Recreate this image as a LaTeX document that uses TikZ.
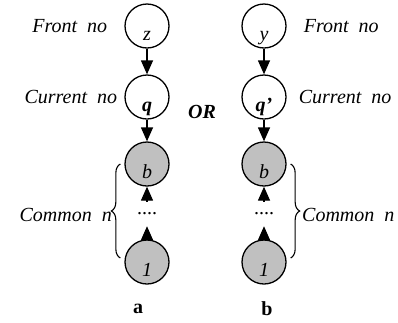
\documentclass[tikz,border=0pt]{standalone}
\usepackage{fontspec}
\setmainfont{Liberation Serif}
\usetikzlibrary{positioning, arrows.meta, calc, decorations.pathreplacing}
\tikzset{
    >={Triangle[length=14pt,width=12pt]}
}

\begin{document}
\begin{tikzpicture}[x=1pt,y=-1pt]
  % fill for the shared part of both chains
  \definecolor{sharedGray}{RGB}{192,192,192}

  % common styles
  \tikzset{
    stage/.style={
      circle,
      draw=black,
      line width=1.3pt,
      minimum size=44pt,
      inner sep=0pt,
      text height=28pt,   % pushes the letter below the centre
      text depth=0pt,
      font=\fontsize{20}{24}\selectfont\itshape
    },
    shared/.style={stage, fill=sharedGray},
    side/.style={inner sep=0pt, font=\fontsize{20}{24}\selectfont\itshape},
    link/.style={->, line width=1.3pt},
    group/.style={decorate, decoration={brace, amplitude=9pt}, line width=1.1pt}
  }

  \useasboundingbox (0,0) rectangle (398,322);

  % chain a
  \node[stage]  (za) at (147,26)  {z};
  \node[stage]  (qa) at (147,97)  {\bfseries q};
  \node[shared] (ba) at (147,164) {b};
  \node[shared] (oa) at (147,262) {1};
  \node[inner sep=0pt, minimum height=24pt, font=\fontsize{20}{24}\selectfont] (da) at (147,214) {....};

  % chain b
  \node[stage]  (zb) at (264,26)  {y};
  \node[stage]  (qb) at (264,97)  {\bfseries q'};
  \node[shared] (bb) at (264,164) {b};
  \node[shared] (ob) at (264,262) {1};
  \node[inner sep=0pt, minimum height=24pt, font=\fontsize{20}{24}\selectfont] (db) at (264,214) {....};

  \draw[link] (za) -- (qa);
  \draw[link] (qa) -- (ba);
  \draw[link] (oa) -- (da);
  \draw[link] (da) -- (ba);

  \draw[link] (zb) -- (qb);
  \draw[link] (qb) -- (bb);
  \draw[link] (ob) -- (db);
  \draw[link] (db) -- (bb);

  % side labels
  \node[side, left=17pt of za]  (fronta) {Front\ \ no};
  \node[side, left=7pt of qa]   (curra)  {Current\ \ no};
  \node[side, right=17pt of zb] (frontb) {Front\ \ no};
  \node[side, right=12pt of qb] (currb)  {Current\ \ no};

  \node[side, font=\fontsize{20}{24}\selectfont\bfseries\itshape] (or) at (202,112) {OR};

  % braces over the common part
  \draw[group] ($(oa.west)+(-4,-4)$) -- ($(ba.west)+(-4,0)$);
  \draw[group] ($(bb.east)+(4,0)$) -- ($(ob.east)+(4,-4)$);
  \node[side, anchor=east] (commona) at (112,215) {Common\ \ n};
  \node[side, anchor=west] (commonb) at (302,215) {Common\ \ n};

  % captions
  \node[inner sep=0pt, font=\fontsize{20}{24}\selectfont\bfseries] (capa) at (138,309) {a};
  \node[inner sep=0pt, font=\fontsize{20}{24}\selectfont\bfseries] (capb) at (267,309) {b};
\end{tikzpicture}
\end{document}
